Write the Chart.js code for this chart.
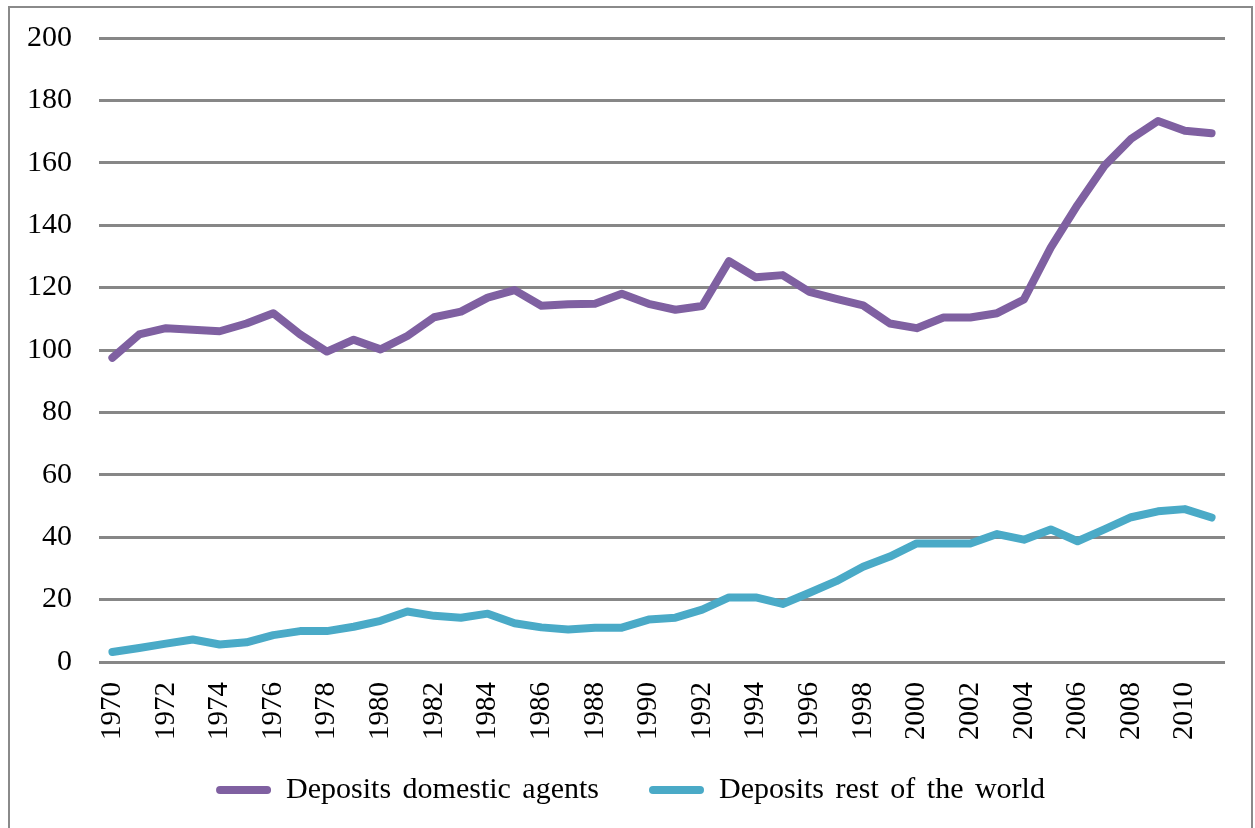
<!DOCTYPE html>
<html>
<head>
<meta charset="utf-8">
<script src="https://cdn.jsdelivr.net/npm/chart.js@4"></script>
<style>
  html, body { margin: 0; padding: 0; background: #fff; overflow: hidden; }
  #frame {
    position: absolute; left: 8px; top: 6px;
    width: 1241px; height: 830px;
    border: 2px solid #8a8a8a;
  }
  #chart { display: block; }
</style>
</head>
<body>
<div id="frame"><canvas id="chart" width="1241" height="820"></canvas></div>
<script>
// years on the x axis
const years = [];
for (let y = 1970; y <= 2011; y++) years.push(String(y));

// values
const domestic = [
  97.5, 105, 107, 106.5, 106, 108.5, 111.8, 105, 99.5, 103.3,
  100.2, 104.5, 110.5, 112.3, 116.8, 119.2, 114.2, 114.7, 114.8, 118,
  114.8, 112.9, 114.1, 128.5, 123.3, 124, 118.6, 116.4, 114.3, 108.5,
  107, 110.4, 110.4, 111.8, 116.2, 132.8, 146.5, 159, 167.7, 173.4,
  170.3, 169.5
];
const restOfWorld = [
  3.2, 4.5, 5.9, 7.2, 5.6, 6.3, 8.6, 9.9, 9.9, 11.3,
  13.2, 16.2, 14.8, 14.2, 15.5, 12.4, 11.1, 10.4, 11, 11,
  13.6, 14.2, 16.8, 20.7, 20.7, 18.6, 22.2, 25.9, 30.5, 33.8,
  38, 38, 38, 41, 39.2, 42.5, 38.7, 42.5, 46.4, 48.3,
  49, 46.3
];

const purple = '#7f60a1';
const teal = '#4aaac7';
const serif = 'Liberation Serif';

// the legend text in the picture has wide word gaps,
// and the legend sits a bit higher / more right than the layout would put it
const legendTweak = {
  id: 'legendTweak',
  beforeLayout(chart) { chart.ctx.wordSpacing = '4px'; },
  afterLayout(chart) {
    const lg = chart.legend;
    const top = 717;
    lg.bottom = top + lg.height;
    lg.top = top;
    lg.left += 13;
    lg.right += 13;
  },
  beforeDraw(chart) { chart.ctx.wordSpacing = '4px'; }
};

new Chart(document.getElementById('chart'), {
  type: 'line',
  data: {
    labels: years,
    datasets: [
      {
        label: 'Deposits domestic agents',
        data: domestic,
        borderColor: purple,
        backgroundColor: purple,
        borderWidth: 8,
        pointRadius: 0,
        borderJoinStyle: 'round',
        borderCapStyle: 'round',
        tension: 0
      },
      {
        label: 'Deposits rest of the world',
        data: restOfWorld,
        borderColor: teal,
        backgroundColor: teal,
        borderWidth: 8,
        pointRadius: 0,
        borderJoinStyle: 'round',
        borderCapStyle: 'round',
        tension: 0
      }
    ]
  },
  options: {
    responsive: false,
    animation: false,
    layout: { padding: { top: 30, right: 26, bottom: -14, left: 0 } },
    scales: {
      x: {
        offset: true,
        grid: {
          display: true,
          drawOnChartArea: false,
          drawTicks: true,
          tickLength: 20,
          color: 'rgba(0,0,0,0)',
          tickColor: 'rgba(0,0,0,0)'
        },
        border: { display: false },
        ticks: {
          autoSkip: false,
          minRotation: 90,
          maxRotation: 90,
          padding: 0,
          color: '#000',
          font: { family: serif, size: 29 },
          callback: function (val, i) { return i % 2 === 0 ? this.getLabelForValue(val) : ''; }
        },
        afterFit: s => { s.height = 90; }
      },
      y: {
        min: 0,
        max: 200,
        grid: {
          color: '#878787',
          lineWidth: 3,
          drawTicks: true,
          tickLength: 27,
          tickColor: 'rgba(0,0,0,0)'
        },
        border: { display: false },
        ticks: {
          stepSize: 20,
          padding: 0,
          color: '#000',
          font: { family: serif, size: 30 }
        },
        afterFit: s => { s.width = 89; }
      }
    },
    plugins: {
      legend: {
        position: 'bottom',
        labels: {
          boxWidth: 55,
          boxHeight: 8,
          useBorderRadius: true,
          borderRadius: 4,
          padding: 50,
          color: '#000',
          font: { family: serif, size: 30 },
          generateLabels: chart =>
            Chart.defaults.plugins.legend.labels.generateLabels(chart)
              .map(item => Object.assign(item, { lineWidth: 0 }))
        }
      },
      tooltip: { enabled: false }
    }
  },
  plugins: [legendTweak]
});
</script>
</body>
</html>
